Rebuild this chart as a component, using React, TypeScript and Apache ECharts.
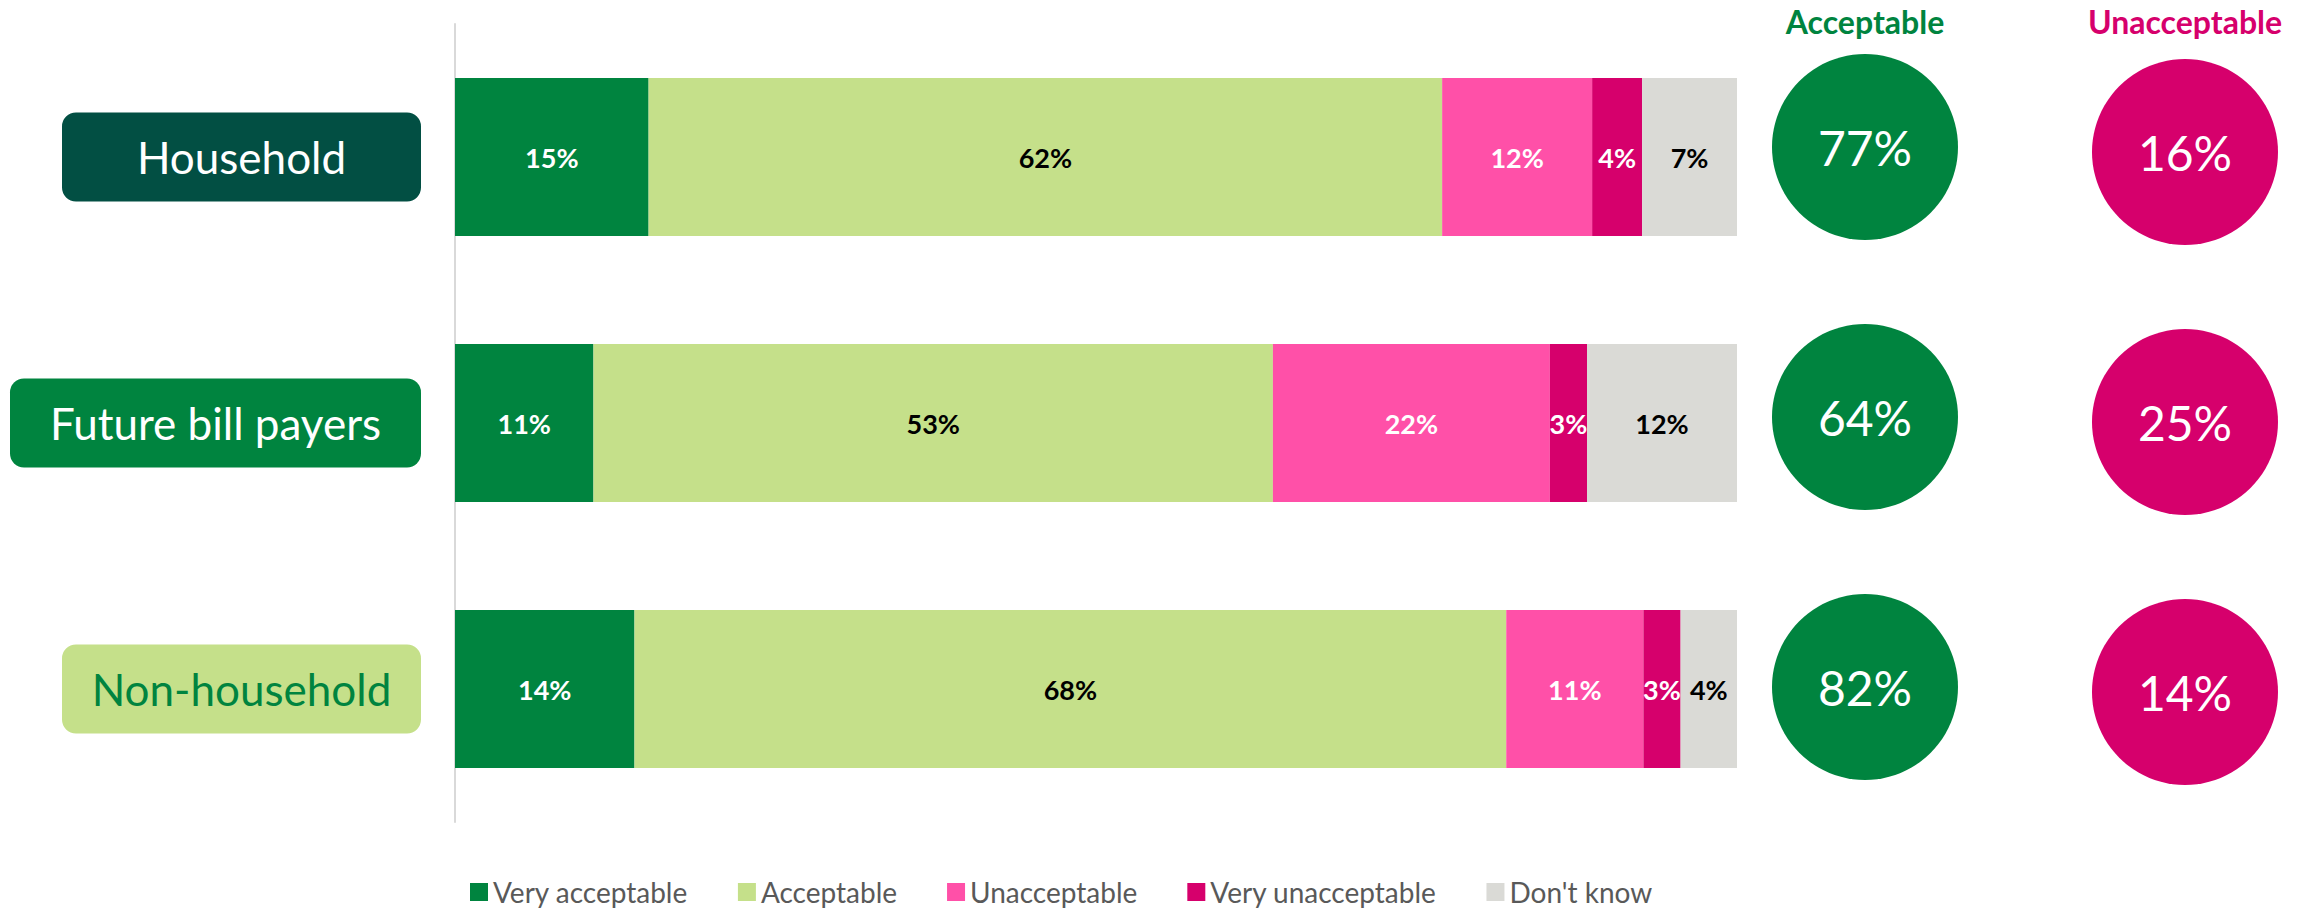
import React, { useEffect, useRef } from "react";
import * as echarts from "echarts";

const categories = ["Household", "Future bill payers", "Non-household"];
const seriesNames = ["Very acceptable", "Acceptable", "Unacceptable", "Very unacceptable", "Don't know"];
const veryAcceptable = [15.1, 10.8, 14.0];
const acceptable = [61.9, 53.0, 68.0];
const unacceptable = [11.7, 21.6, 10.7];
const veryUnacceptable = [3.9, 2.9, 2.9];
const dontKnow = [7.4, 11.7, 4.4];
const summaryColumns = ["Acceptable", "Unacceptable"];
const acceptableTotals = [77, 64, 82];
const unacceptableTotals = [16, 25, 14];

const COLORS = ["#00843F", "#C5E08A", "#FF50A8", "#D6006C", "#DADAD6"];
const LABEL_COLORS = ["#FFFFFF", "#000000", "#FFFFFF", "#FFFFFF", "#000000"];
const FONT = "Lato, 'Open Sans', sans-serif";

export default function App() {
  const ref = useRef<HTMLDivElement>(null);
  useEffect(() => {
    document.body.style.margin = "0";
    if (!ref.current) return;
    const chart = echarts.init(ref.current, undefined, { renderer: "svg" });
    const values = [veryAcceptable, acceptable, unacceptable, veryUnacceptable, dontKnow];
    const barSeries = seriesNames.map((name, i) => ({
      name,
      type: "bar",
      stack: "total",
      xAxisIndex: 0,
      yAxisIndex: 0,
      barWidth: 158,
      itemStyle: { color: COLORS[i] },
      label: {
        show: true,
        position: "inside",
        formatter: (p: any) => Math.round(p.value) + "%",
        color: LABEL_COLORS[i],
        fontSize: 27,
        fontWeight: "bold",
        fontFamily: FONT,
      },
      data: values[i],
    }));
    const circleLabel = {
      show: true,
      position: "inside",
      formatter: (p: any) => p.value[2] + "%",
      color: "#FFFFFF",
      fontSize: 48,
      fontFamily: FONT,
    };
    const boxBase = {
      width: 359,
      height: 89,
      lineHeight: 89,
      align: "center",
      borderRadius: 14,
      fontSize: 44,
      fontFamily: FONT,
    };
    chart.setOption({
      animation: false,
      grid: [
        { left: 455, top: 24, width: 1282, height: 798 },
        { left: 1865, top: 15, width: 320, height: 810 },
      ],
      legend: {
        data: seriesNames,
        left: 470,
        top: 878,
        padding: 0,
        itemWidth: 18,
        itemHeight: 18,
        itemGap: 50,
        icon: "rect",
        textStyle: { fontSize: 28, lineHeight: 28, color: "#595959", fontFamily: FONT },
      },
      xAxis: [
        { type: "value", gridIndex: 0, min: 0, max: 100, show: false },
        {
          type: "category",
          gridIndex: 1,
          data: summaryColumns,
          boundaryGap: false,
          position: "top",
          axisLine: { show: false },
          axisTick: { show: false },
          splitLine: { show: false },
          axisLabel: {
            margin: -22,
            formatter: (v: string) => (v === "Acceptable" ? "{g|" + v + "}" : "{r|" + v + "}"),
            rich: {
              g: { color: "#00843F", fontSize: 32, fontWeight: "bold", fontFamily: FONT },
              r: { color: "#D6006C", fontSize: 32, fontWeight: "bold", fontFamily: FONT },
            },
          },
        },
      ],
      yAxis: [
        {
          type: "category",
          gridIndex: 0,
          inverse: true,
          data: categories,
          axisLine: { show: true, lineStyle: { color: "#D9D9D9", width: 2 } },
          axisTick: { show: false },
          axisLabel: {
            margin: 34,
            formatter: (v: string) => {
              if (v === "Household") return "{h|" + v + "}";
              if (v === "Future bill payers") return "{f|" + v + "}";
              return "{n|" + v + "}";
            },
            rich: {
              h: { ...boxBase, backgroundColor: "#024F43", color: "#FFFFFF" },
              f: { ...boxBase, width: 411, backgroundColor: "#00843F", color: "#FFFFFF" },
              n: { ...boxBase, backgroundColor: "#C5E08A", color: "#00843F" },
            },
          },
        },
        {
          type: "category",
          gridIndex: 1,
          inverse: true,
          data: categories,
          show: false,
        },
      ],
      series: [
        ...barSeries,
        {
          name: "Acceptable total",
          type: "scatter",
          xAxisIndex: 1,
          yAxisIndex: 1,
          symbol: "circle",
          symbolSize: 186,
          symbolOffset: [0, -3],
          itemStyle: { color: "#00843F", opacity: 1 },
          label: circleLabel,
          data: acceptableTotals.map((v, i) => [0, i, v]),
        },
        {
          name: "Unacceptable total",
          type: "scatter",
          xAxisIndex: 1,
          yAxisIndex: 1,
          symbol: "circle",
          symbolSize: 186,
          symbolOffset: [0, 2],
          itemStyle: { color: "#D6006C", opacity: 1 },
          label: circleLabel,
          data: unacceptableTotals.map((v, i) => [1, i, v]),
        },
      ],
    });
    return () => chart.dispose();
  }, []);
  return <div ref={ref} style={{ width: 2317, height: 914 }} />;
}
